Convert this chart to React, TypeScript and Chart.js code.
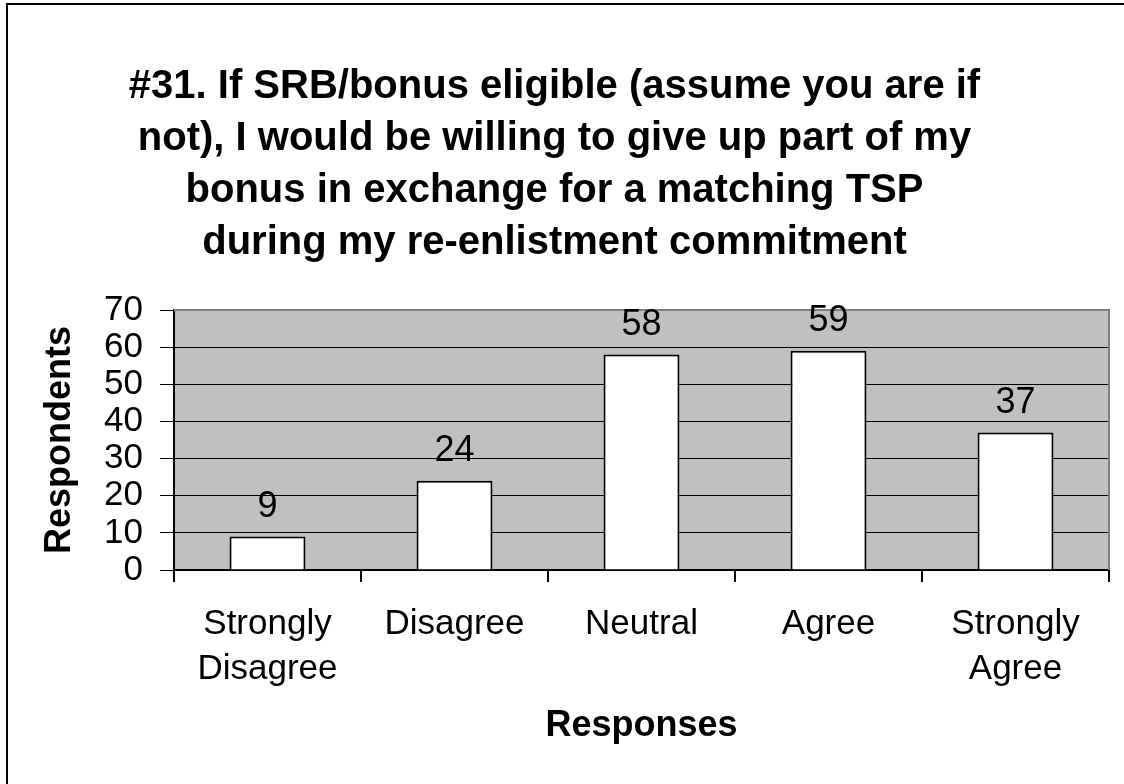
import React, { useEffect, useRef } from "react";
import { Chart, registerables } from "chart.js";

Chart.register(...registerables);

// ---- data ----
const categories: (string | string[])[] = [
  ["Strongly", "Disagree"],
  "Disagree",
  "Neutral",
  "Agree",
  ["Strongly", "Agree"],
];
const values: number[] = [9, 24, 58, 59, 37];
const yMin = 0;
const yMax = 70;
const yStep = 10;
const titleLines: string[] = [
  "#31. If SRB/bonus eligible (assume you are if",
  "not), I would be willing to give up part of my",
  "bonus in exchange for a matching TSP",
  "during my re-enlistment commitment",
];
const xTitle = "Responses";
const yTitle = "Respondents";

const FAMILY = "'Liberation Sans', Arial, Helvetica, sans-serif";

const backgroundPlugin = {
  id: "plotBackground",
  beforeDraw(chart: any) {
    const { ctx, chartArea } = chart;
    ctx.save();
    ctx.fillStyle = "#ffffff";
    ctx.fillRect(0, 0, chart.width, chart.height);
    ctx.fillStyle = "#c0c0c0";
    ctx.fillRect(
      chartArea.left,
      chartArea.top,
      chartArea.right - chartArea.left,
      chartArea.bottom - chartArea.top
    );
    ctx.restore();
  },
  beforeDatasetsDraw(chart: any) {
    const { ctx, chartArea } = chart;
    ctx.save();
    ctx.strokeStyle = "#808080";
    ctx.lineWidth = 2;
    ctx.beginPath();
    ctx.moveTo(chartArea.left, chartArea.top);
    ctx.lineTo(chartArea.right, chartArea.top);
    ctx.lineTo(chartArea.right, chartArea.bottom);
    ctx.stroke();
    ctx.restore();
  },
  afterDraw(chart: any) {
    const { ctx } = chart;
    ctx.save();
    ctx.strokeStyle = "#000000";
    ctx.lineWidth = 2;
    ctx.strokeRect(7, 4, 1400, 1000);
    ctx.restore();
  },
};

const valueLabelPlugin = {
  id: "valueLabels",
  afterDatasetsDraw(chart: any) {
    const { ctx } = chart;
    const meta = chart.getDatasetMeta(0);
    ctx.save();
    ctx.font = `normal 36px ${FAMILY}`;
    ctx.fillStyle = "#000000";
    ctx.textAlign = "center";
    ctx.textBaseline = "alphabetic";
    meta.data.forEach((bar: any, i: number) => {
      ctx.fillText(String(values[i]), bar.x, bar.y - 20);
    });
    ctx.restore();
  },
};

export default function App() {
  const canvasRef = useRef<HTMLCanvasElement | null>(null);

  useEffect(() => {
    document.body.style.margin = "0";
    const canvas = canvasRef.current;
    if (!canvas) return;
    const ctx = canvas.getContext("2d");
    if (!ctx) return;

    const chart = new Chart(ctx, {
      type: "bar",
      data: {
        labels: categories,
        datasets: [
          {
            data: values,
            backgroundColor: "#ffffff",
            borderColor: "#000000",
            borderWidth: 2,
            barPercentage: 0.406,
            categoryPercentage: 1,
          },
        ],
      },
      plugins: [backgroundPlugin, valueLabelPlugin],
      options: {
        responsive: false,
        animation: false,
        devicePixelRatio: 1,
        layout: { padding: { left: 0, right: 15, top: 0, bottom: 0 } },
        plugins: {
          legend: { display: false },
          tooltip: { enabled: false },
          title: {
            display: true,
            text: titleLines,
            color: "#000000",
            font: { family: FAMILY, size: 40, weight: "bold", lineHeight: 52 / 40 },
            padding: { top: 61, bottom: 41 },
          },
        },
        scales: {
          x: {
            type: "category",
            offset: true,
            grid: {
              display: true,
              drawOnChartArea: false,
              drawTicks: true,
              tickLength: 12,
              offset: true,
              color: "#000000",
              lineWidth: 2,
            },
            border: { display: true, color: "#000000", width: 2 },
            ticks: {
              color: "#000000",
              font: { family: FAMILY, size: 35, lineHeight: 45 / 35 },
              padding: 20,
              maxRotation: 0,
              minRotation: 0,
              autoSkip: false,
            },
            title: {
              display: true,
              text: xTitle,
              color: "#000000",
              font: { family: FAMILY, size: 36, weight: "bold", lineHeight: 1.2 },
              padding: { top: 0, bottom: 36 },
            },
            afterFit: (scale: any) => {
              scale.height = 214;
            },
          },
          y: {
            min: yMin,
            max: yMax,
            grid: {
              color: (c: any) => (c.tick && c.tick.value === yMax ? "#808080" : "#000000"),
              tickColor: "#000000",
              lineWidth: 1,
              drawTicks: true,
              tickLength: 14,
            },
            border: { display: true, color: "#000000", width: 2 },
            ticks: {
              stepSize: yStep,
              autoSkip: false,
              color: "#000000",
              font: { family: FAMILY, size: 35, lineHeight: 1.0 },
              padding: 17,
            },
            title: {
              display: true,
              text: yTitle,
              color: "#000000",
              font: { family: FAMILY, size: 36, weight: "bold", lineHeight: 1.2 },
              padding: { top: 38, bottom: 0 },
            },
            afterFit: (scale: any) => {
              scale.width = 174;
            },
          },
        },
      },
    } as any);

    return () => {
      chart.destroy();
    };
  }, []);

  return (
    <canvas
      ref={canvasRef}
      width={1124}
      height={784}
      style={{ display: "block", width: "1124px", height: "784px" }}
    />
  );
}
